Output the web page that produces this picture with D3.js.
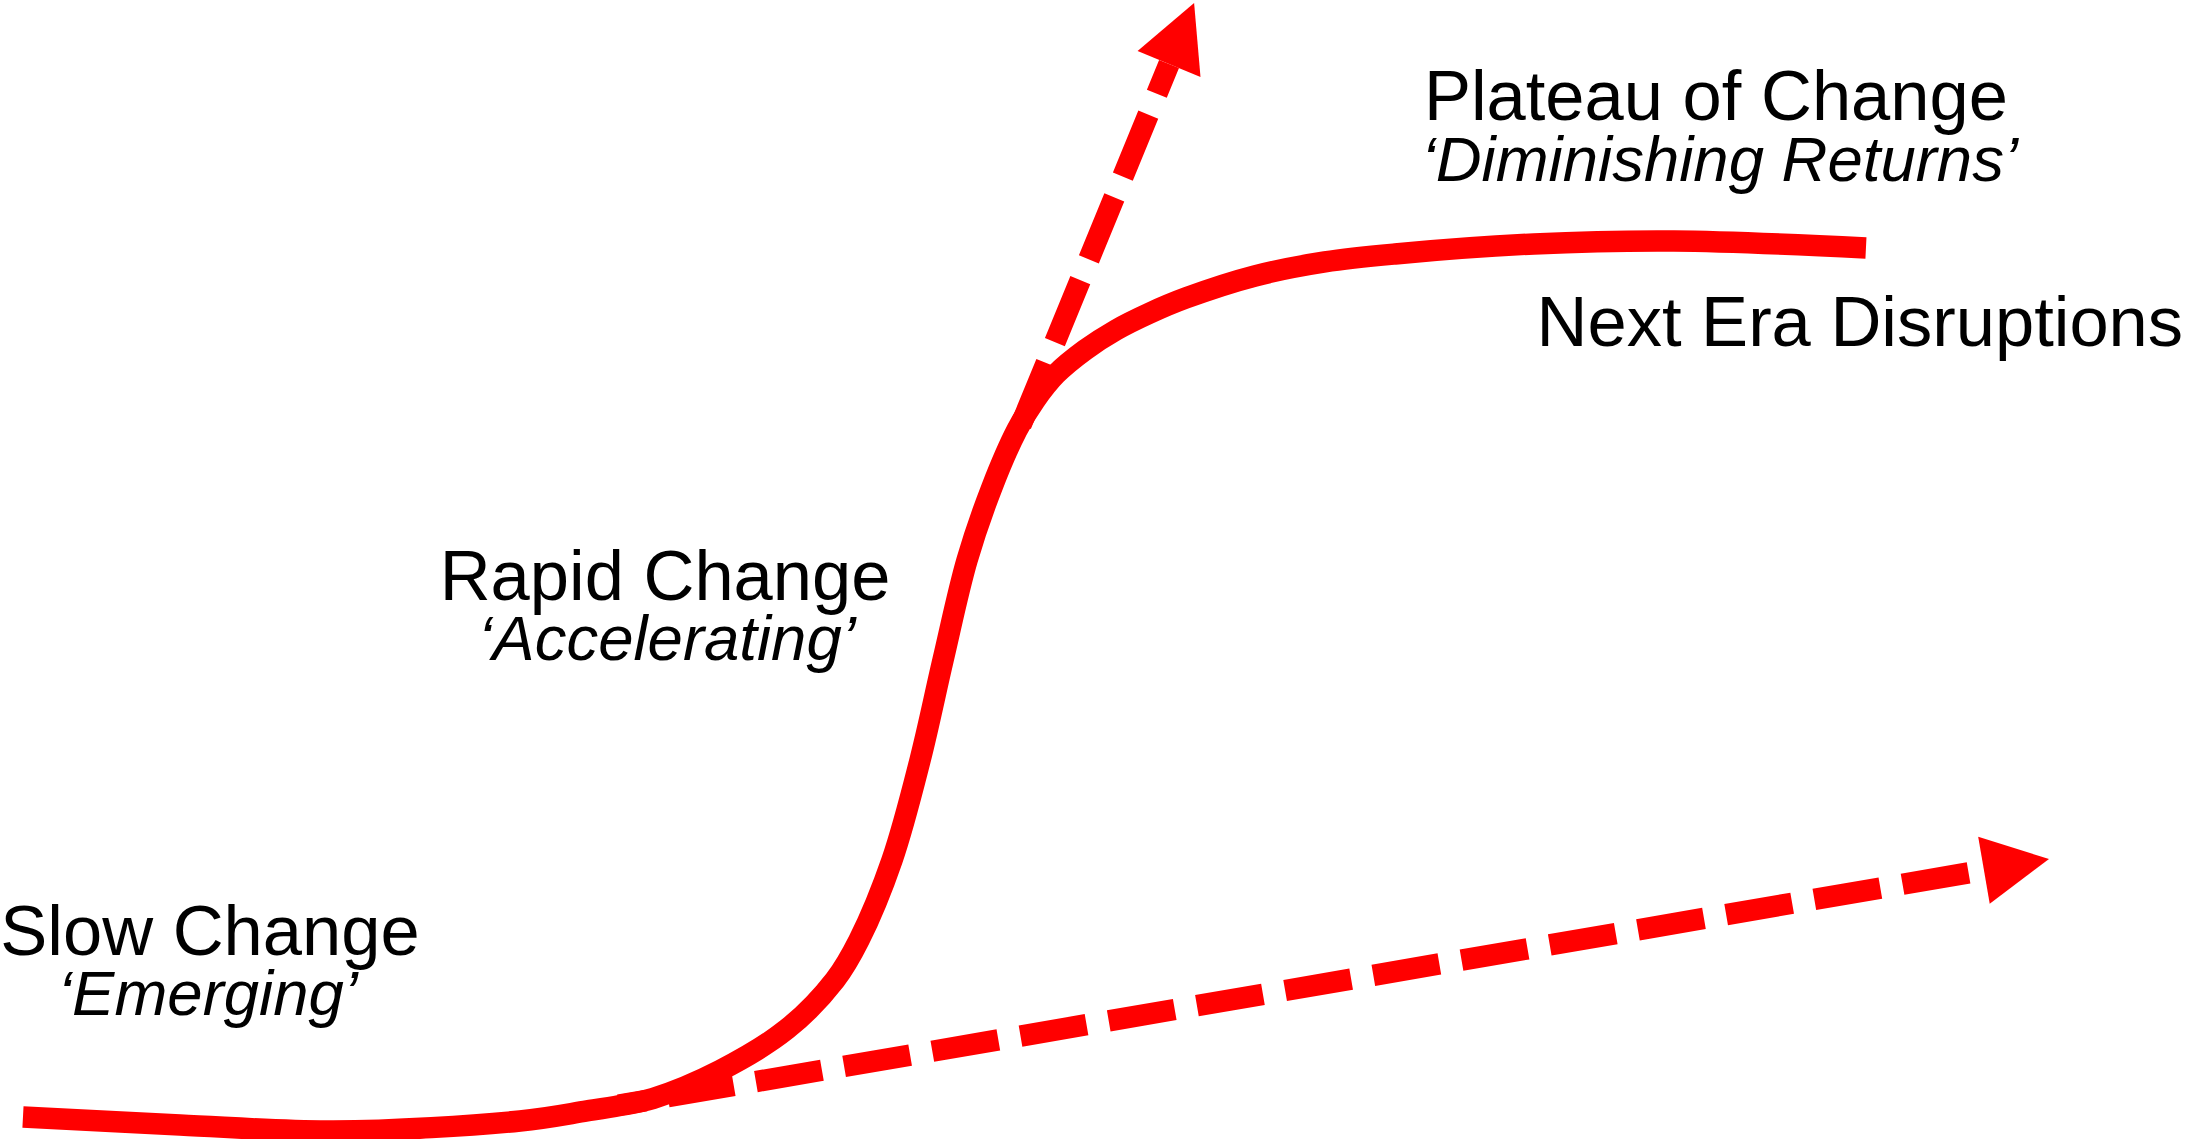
<!DOCTYPE html>
<html><head><meta charset="utf-8">
<script src="https://cdn.jsdelivr.net/npm/d3@7"></script>
<style>html,body{margin:0;padding:0;background:#fff;overflow:hidden}</style>
</head><body>
<svg id="chart" width="2187" height="1139"></svg>
<script>
// S-curve (time 0-100, change 0-100)
const curveTime   = [1.05, 8.23, 15.23, 23.78, 26.84, 28.35, 29.86, 32.92, 35.99, 38.18, 39.28, 40.79, 42.07, 43.12, 44.22, 45.36, 46.50, 47.33, 48.29, 49.61, 51.03, 52.58, 54.23, 57.38, 60.58, 63.79, 70.14, 76.54, 85.32];
const curveChange = [1.93, 1.23, 0.70, 1.58, 2.46, 2.94, 3.56, 6.01, 9.66, 13.96, 17.47, 24.50, 33.27, 42.05, 50.83, 57.24, 62.25, 64.88, 67.16, 69.27, 71.03, 72.52, 73.84, 75.77, 77.00, 77.70, 78.58, 78.84, 78.23];

// dashed arrows: [start, tip]
const disruptTime   = [46.68, 54.60];
const disruptChange = [62.69, 99.74];
const nextEraTime   = [28.30, 93.69];
const nextEraChange = [2.97, 24.58];

// labels
const labelText  = ["Slow Change", "\u2018Emerging\u2019", "Rapid Change", "\u2018Accelerating\u2019", "Plateau of Change", "\u2018Diminishing Returns\u2019", "Next Era Disruptions"];
const labelTime  = [9.60, 9.51, 30.41, 30.50, 78.46, 78.64, 99.82];
const labelChange= [16.15, 10.89, 47.32, 42.05, 89.46, 84.11, 69.62];
const labelItalic= [false, true, false, true, false, true, false];
const labelAnchor= ["middle","middle","middle","middle","middle","middle","end"];

const W = 2187, H = 1139;
const x = d3.scaleLinear().domain([0, 100]).range([0, W]);
const y = d3.scaleLinear().domain([0, 100]).range([H, 0]);
const svg = d3.select("#chart");
const RED = "#ff0000";

const pts = curveTime.map((t, i) => [t, curveChange[i]]);
svg.append("path")
  .attr("d", d3.line().x(d => x(d[0])).y(d => y(d[1])).curve(d3.curveCatmullRom.alpha(0.5))(pts))
  .attr("fill", "none").attr("stroke", RED).attr("stroke-width", 21.5);

function arrow(tArr, cArr, offset) {
  const p0 = [x(tArr[0]), y(cArr[0])], p1 = [x(tArr[1]), y(cArr[1])];
  const dx = p1[0] - p0[0], dy = p1[1] - p0[1], L = Math.hypot(dx, dy);
  const ux = dx / L, uy = dy / L, px = -uy, py = ux;
  const headL = 66, headW = 34;
  const b = [p1[0] - ux * headL, p1[1] - uy * headL];
  svg.append("line").attr("x1", p0[0]).attr("y1", p0[1]).attr("x2", b[0]).attr("y2", b[1])
    .attr("stroke", RED).attr("stroke-width", 21.5).attr("stroke-dasharray", "67 22.5")
    .attr("stroke-dashoffset", offset);
  svg.append("path")
    .attr("d", `M${p1[0]},${p1[1]}L${b[0] + px * headW},${b[1] + py * headW}L${b[0] - px * headW},${b[1] - py * headW}Z`)
    .attr("fill", RED);
}
arrow(disruptTime, disruptChange, 0);
arrow(nextEraTime, nextEraChange, 40);

labelText.forEach((t, i) => {
  svg.append("text")
    .attr("x", x(labelTime[i])).attr("y", y(labelChange[i]))
    .attr("text-anchor", labelAnchor[i])
    .attr("font-family", "Liberation Sans, Arial, sans-serif")
    .attr("font-size", labelItalic[i] ? 63.5 : 70.5)
    .attr("font-style", labelItalic[i] ? "italic" : "normal")
    .attr("fill", "#000")
    .text(t);
});
</script>
</body></html>
